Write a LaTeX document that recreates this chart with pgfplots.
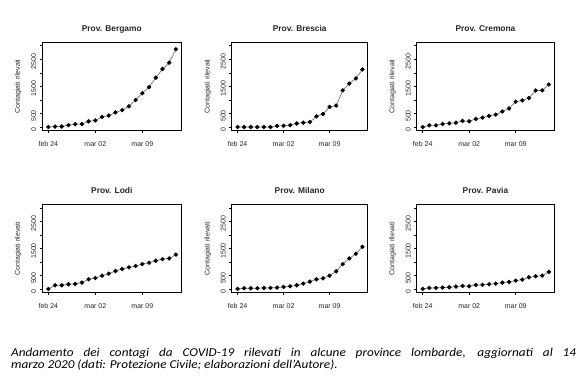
\documentclass[border=0pt]{standalone}
\usepackage{pgfplots}
\usepackage{pgfplotstable}
\pgfplotsset{compat=1.18}
\usepackage{fontspec}
\setmainfont{Liberation Sans}
\newfontfamily\capfont{Carlito}[FakeStretch=1.1]

\pgfplotstableread{
d  bg   bs   cr   lo   mi   pv
0  0    0    0    10   12   12
1  18   0    62   146  37   49
2  20   0    62   146  37   49
3  72   0    112  183  37   61
4  103  0    136  195  49   73
5  110  0    161  244  49   98
6  209  40   223  366  61   122
7  243  45   211  415  85   110
8  372  70   298  500  110  159
9  423  130  347  573  146  159
10 537  160  409  671  207  183
11 623  185  459  744  281  207
12 761  390  571  805  366  244
13 997  480  683  854  403  268
14 1245 740  931  927  500  317
15 1472 790  981  976  659  354
16 1815 1350 1067 1049 927  439
17 2136 1600 1344 1110 1134 476
18 2368 1790 1350 1134 1305 500
19 2864 2120 1565 1276 1561 640
}\data

\pgfplotsset{
  panel/.style={
    scale only axis, height=88pt,
    anchor=south west,
    xmin=-0.9, xmax=19.8, ymin=-120, ymax=3120,
    axis line style={black, line width=0.5pt},
    tick align=outside, tick pos=left,
    major tick length=2.5pt,
    tick style={black, line width=0.4pt},
    xtick={0,7,14}, xticklabels={feb 24, mar 02, mar 09},
    ytick={0,500,...,3000}, yticklabels={0,500,,1500,,2500,},
    /pgf/number format/assume math mode=true,
    ticklabel style={font=\fontsize{7}{8}\selectfont, text=black!85},
    yticklabel style={rotate=90, anchor=south, xshift=-2.5pt},
    xticklabel style={yshift=-5pt},
    every axis y label/.style={at={(axis description cs:-0.175,0.5)}, rotate=90, anchor=center, font=\fontsize{7}{8}\selectfont, text=black!85},
    ylabel={Contagiati rilevati},
    title style={at={(axis description cs:0.5,1)}, anchor=base, yshift=5pt, font=\fontsize{8.4}{9}\selectfont\bfseries, text=black!85},
    clip=false,
  },
  ser/.style={draw=black!55, line width=0.7pt, mark=*, mark size=1.8pt, mark options={fill=black, draw=black}},
}

\begin{document}
\begin{tikzpicture}[x=1pt,y=1pt]
\path[use as bounding box] (0,0) rectangle (580,382);
% row 1
\begin{axis}[panel, at={(42.3pt,251.7pt)}, width=139pt, title={Prov. Bergamo}]
\addplot[ser] table[x=d,y=bg] {\data};
\end{axis}
\begin{axis}[panel, at={(231.7pt,251.7pt)}, width=136pt, title={Prov. Brescia}]
\addplot[ser] table[x=d,y=bs] {\data};
\end{axis}
\begin{axis}[panel, at={(416.7pt,251.7pt)}, width=137.5pt, title={Prov. Cremona}]
\addplot[ser] table[x=d,y=cr] {\data};
\end{axis}
% row 2
\begin{axis}[panel, at={(42.3pt,89.5pt)}, width=139pt, title={Prov. Lodi}]
\addplot[ser] table[x=d,y=lo] {\data};
\end{axis}
\begin{axis}[panel, at={(231.7pt,89.5pt)}, width=136pt, title={Prov. Milano}]
\addplot[ser] table[x=d,y=mi] {\data};
\end{axis}
\begin{axis}[panel, at={(416.7pt,89.5pt)}, width=137.5pt, title={Prov. Pavia}]
\addplot[ser] table[x=d,y=pv] {\data};
\end{axis}
% caption
\node[anchor=base west, inner sep=0pt, font=\capfont\itshape\fontsize{12}{13}\selectfont] at (11,25.5)
  {\makebox[565pt][s]{Andamento dei contagi da COVID-19 rilevati in alcune province lombarde, aggiornati al 14}};
\node[anchor=base west, inner sep=0pt, font=\capfont\itshape\fontsize{12}{13}\selectfont] at (11,13.5)
  {marzo 2020 (dati: Protezione Civile; elaborazioni dell’Autore).};
\end{tikzpicture}
\end{document}
